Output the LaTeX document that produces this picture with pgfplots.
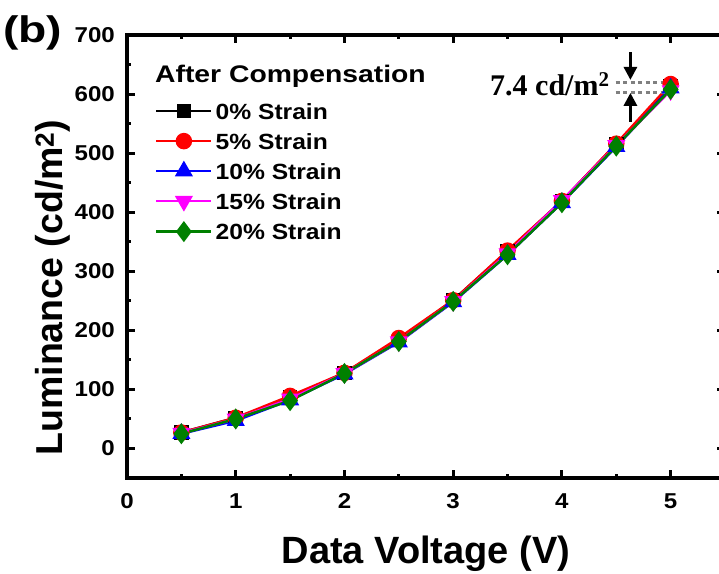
\documentclass[border=0pt]{standalone}
\usepackage{pgfplots}
\pgfplotsset{compat=1.18}
\usepackage{fontspec}
\setmainfont{Liberation Sans}
\newfontfamily\serifbold{Liberation Serif}
\usetikzlibrary{arrows.meta}
\definecolor{cgreen}{RGB}{0,128,0}
\definecolor{cmag}{RGB}{255,0,255}
\newcommand{\wide}[1]{\scalebox{1.12}[1]{#1}}
\begin{document}
\begin{tikzpicture}
\begin{axis}[
  at={(0,0)}, anchor=south west,
  scale only axis, width=598pt, height=443pt,
  xmin=0, xmax=5.5, ymin=-50, ymax=700,
  xtick={0,1,2,3,4,5}, ytick={0,100,...,700},
  minor x tick num=1, minor y tick num=1,
  tick align=inside,
  major tick length=8pt, minor tick length=4pt,
  every tick/.style={black, line width=3pt},
  axis line style={line width=3.8pt},
  /pgf/number format/assume math mode=true,
  ticklabel style={font=\bfseries\fontsize{21.5}{21.5}\selectfont},
  xticklabel={\wide{\pgfmathprintnumber{\tick}}},
  yticklabel={\wide{\pgfmathprintnumber{\tick}}},
  xticklabel style={anchor=base, yshift=-30pt, inner sep=0pt},
  yticklabel style={anchor=east, xshift=-12pt, inner sep=0pt},
  xlabel={Data Voltage (V)},
  ylabel={Luminance (cd/m\textsuperscript{2})},
  xlabel style={font=\bfseries\fontsize{38}{38}\selectfont, at={(axis description cs:0.5,0)}, anchor=base, yshift=-85pt, inner sep=0pt},
  ylabel style={font=\bfseries\fontsize{37.5}{37.5}\selectfont, at={(axis description cs:0,0.43)}, anchor=base, yshift=64pt, inner sep=0pt},
  legend style={at={(axis cs:0.257,585)}, anchor=north west, draw=none, fill=none,
    inner sep=0pt, row sep=14pt, column sep=3pt,
    font=\bfseries\fontsize{22}{22}\selectfont,
    nodes={inner sep=0pt, text height=16pt, text depth=0pt}},
  legend cell align=left,
  legend image code/.code={\draw[mark repeat=2,mark phase=2,#1] plot coordinates {(0pt,0pt) (27.5pt,0pt) (55pt,0pt)};},
  clip=false,
]
\addplot[black, line width=2.5pt, mark=square*, mark size=6pt, mark options={solid}] coordinates {
(0.5,27) (1,52) (1.5,86) (2,128) (2.5,184) (3,251) (3.5,334) (4,419) (4.5,515) (5,614)};
\addlegendentry{\wide{0\% Strain}}
\addplot[red, line width=2.5pt, mark=*, mark size=7pt, mark options={solid}] coordinates {
(0.5,27) (1,52) (1.5,89) (2,128) (2.5,187) (3,251) (3.5,335) (4,419) (4.5,516) (5,617)};
\addlegendentry{\wide{5\% Strain}}
\addplot[blue, line width=2.5pt, mark=triangle*, mark size=8pt, mark options={solid}] coordinates {
(0.5,25) (1,47) (1.5,82) (2,126) (2.5,180) (3,248) (3.5,328) (4,416) (4.5,511) (5,610)};
\addlegendentry{\wide{10\% Strain}}
\addplot[cmag, line width=2.5pt, mark=triangle*, mark size=8pt, mark options={solid, rotate=180}] coordinates {
(0.5,26) (1,50) (1.5,84) (2,127) (2.5,181) (3,249) (3.5,330) (4,420) (4.5,513) (5,606)};
\addlegendentry{\wide{15\% Strain}}
\addplot[cgreen, line width=2.5pt, mark=diamond*, mark size=8.5pt, mark options={solid}] coordinates {
(0.5,25) (1,50) (1.5,81) (2,127) (2.5,181) (3,249) (3.5,328) (4,416) (4.5,512) (5,608)};
\addlegendentry{\wide{20\% Strain}}
% annotation
\draw[gray, line width=3.5pt, dash pattern=on 4pt off 3.5pt] (axis cs:4.495,620) -- (axis cs:4.954,620);
\draw[gray, line width=3.5pt, dash pattern=on 4pt off 3.5pt] (axis cs:4.495,603) -- (axis cs:4.954,603);
\draw[black, line width=3pt, -{Triangle[width=13pt,length=13pt]}] (axis cs:4.63,671) -- (axis cs:4.63,624);
\draw[black, line width=3pt, -{Triangle[width=13pt,length=13pt]}] (axis cs:4.63,553) -- (axis cs:4.63,602);
\node[anchor=base east, inner sep=0pt, font=\serifbold\bfseries\fontsize{30}{30}\selectfont] at (axis cs:4.44,598) {7.4 cd/m\textsuperscript{2}};
\node[anchor=base west, inner sep=0pt, font=\bfseries\fontsize{24}{24}\selectfont] at (axis cs:0.257,619) {\scalebox{1.18}[1]{After Compensation}};
\end{axis}
\node[anchor=base west, inner sep=0pt, font=\bfseries\fontsize{37}{37}\selectfont] at (-124pt,435pt) {\scalebox{1.25}[1]{(b)}};
\pgfresetboundingbox
\useasboundingbox (-127pt,-95pt) rectangle (592pt,478pt);
\end{tikzpicture}
\end{document}
